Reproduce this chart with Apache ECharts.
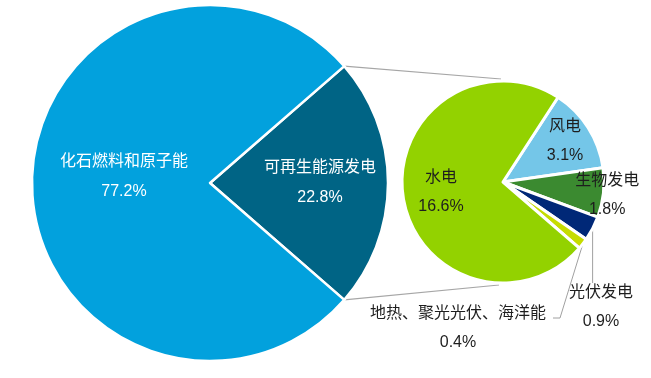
<!DOCTYPE html>
<html>
<head>
<meta charset="utf-8">
<script src="https://cdn.jsdelivr.net/npm/echarts@6/dist/echarts.min.js"></script>
<style>
  html, body { margin: 0; padding: 0; background: #fff; }
  #chart { width: 651px; height: 378px; }
</style>
</head>
<body>
<div id="chart"></div>
<script>
// 数据
const bigNames = ['可再生能源发电', '化石燃料和原子能'];
const bigValues = [22.8, 77.2];
const bigColors = ['#006485', '#02A1DD'];

const smallNames = ['风电', '生物发电', '光伏发电', '地热、聚光光伏、海洋能', '水电'];
const smallValues = [3.1, 1.8, 0.9, 0.4, 16.6];
const smallColors = ['#74C6E8', '#3B8A30', '#002877', '#C6DC00', '#93D200'];

// 饼图位置
const bigCenter = [210, 183];
const bigR = 178;
const smallCenter = [503, 182];
const smallR = 101;

const halfAngle = bigValues[0] / (bigValues[0] + bigValues[1]) * 180;
const rad = halfAngle * Math.PI / 180;
const cornerTop = [bigCenter[0] + bigR * Math.cos(rad), bigCenter[1] - bigR * Math.sin(rad)];
const cornerBottom = [bigCenter[0] + bigR * Math.cos(rad), bigCenter[1] + bigR * Math.sin(rad)];

const font = "'Liberation Sans', 'Noto Sans CJK SC', sans-serif";

const myChart = echarts.init(document.getElementById('chart'));

const option = {
  animation: false,
  graphic: [
    {
      type: 'line',
      z: -1,
      shape: { x1: cornerTop[0], y1: cornerTop[1], x2: smallCenter[0] - 2, y2: smallCenter[1] - smallR - 2 },
      style: { stroke: '#A6A6A6', lineWidth: 1.2 }
    },
    {
      type: 'line',
      z: -1,
      shape: { x1: cornerBottom[0], y1: cornerBottom[1], x2: smallCenter[0] - 4, y2: smallCenter[1] + smallR + 2 },
      style: { stroke: '#A6A6A6', lineWidth: 1.2 }
    }
  ],
  series: [
    {
      type: 'pie',
      center: bigCenter,
      radius: bigR,
      startAngle: halfAngle,
      clockwise: true,
      avoidLabelOverlap: false,
      itemStyle: { borderColor: '#fff', borderWidth: 2.5 },
      label: {
        show: true,
        position: 'inside',
        formatter: '{b}\n{c}%',
        color: '#fff',
        fontSize: 16,
        lineHeight: 30,
        fontFamily: font
      },
      labelLayout: function (p) {
        if (p.dataIndex === 0) return { dx: 18, dy: 0 };
        return { dx: 6, dy: -6 };
      },
      emphasis: { disabled: true },
      data: bigNames.map((n, i) => ({ name: n, value: bigValues[i], itemStyle: { color: bigColors[i] } }))
    },
    {
      type: 'pie',
      center: smallCenter,
      radius: smallR,
      startAngle: 57,
      clockwise: true,
      avoidLabelOverlap: false,
      itemStyle: { borderColor: '#fff', borderWidth: 3 },
      label: {
        show: true,
        position: 'inside',
        formatter: '{b}\n{c}%',
        color: '#1E1E1E',
        fontSize: 16,
        lineHeight: 29,
        fontFamily: font
      },
      labelLine: { show: true, lineStyle: { color: '#A0A0A0', width: 1 }, length: 10, length2: 5 },
      labelLayout: function (p) {
        const pts = p.labelLinePoints;
        if (p.dataIndex === 0) return { dx: 17, dy: -12 };
        if (p.dataIndex === 1) return { dx: 51, dy: 7 };
        if (p.dataIndex === 4) return { dx: -9, dy: 3 };
        if (p.dataIndex === 2 && pts) {
          pts[1] = [pts[0][0], 282];
          pts[2] = [pts[0][0], 283];
          return { x: 601, y: 307, align: 'center', verticalAlign: 'middle', labelLinePoints: pts };
        }
        if (p.dataIndex === 3 && pts) {
          pts[1] = [560, 318];
          pts[2] = [553, 318];
          return { x: 458, y: 328, align: 'center', verticalAlign: 'middle', labelLinePoints: pts };
        }
        return {};
      },
      emphasis: { disabled: true },
      data: smallNames.map((n, i) => {
        const item = { name: n, value: smallValues[i], itemStyle: { color: smallColors[i] } };
        if (i === 2 || i === 3) {
          item.label = { position: 'outside' };
          item.labelLine = { show: true };
        } else {
          item.labelLine = { show: false };
        }
        return item;
      })
    }
  ]
};

myChart.setOption(option);
</script>
</body>
</html>
